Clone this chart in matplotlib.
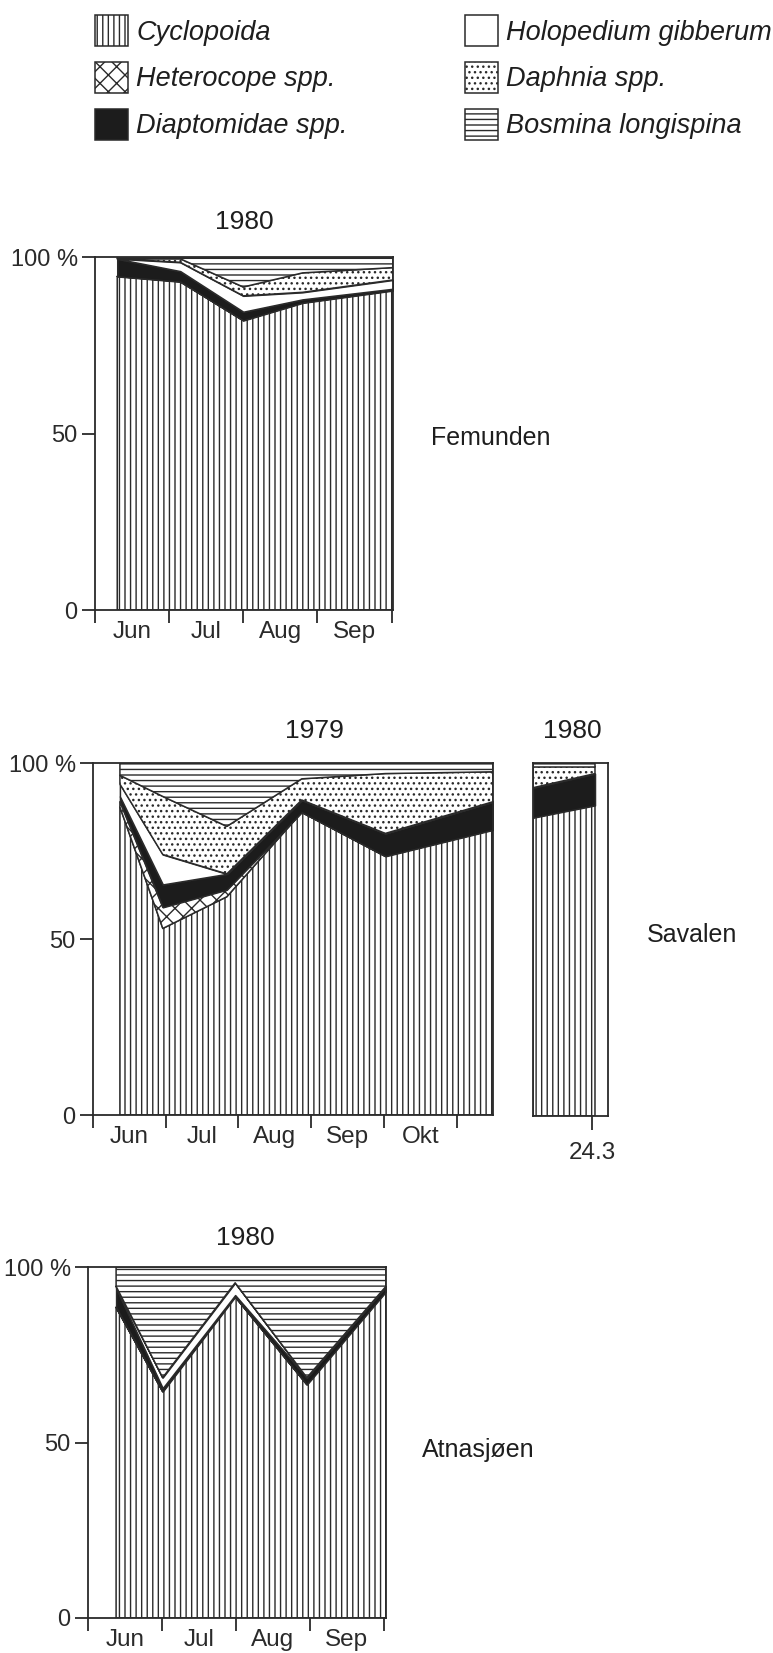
import numpy as np
import matplotlib.pyplot as plt
from matplotlib.patches import Patch

plt.rcParams['font.family'] = ['Liberation Sans', 'DejaVu Sans']
plt.rcParams['hatch.linewidth'] = 1.0
plt.rcParams['text.color'] = '#1e1e1e'
plt.rcParams['xtick.color'] = '#2a2a2a'
plt.rcParams['ytick.color'] = '#2a2a2a'

W, H = 773, 1653
INK = '#2a2a2a'

species = ['Cyclopoida', 'Heterocope spp.', 'Diaptomidae spp.',
           'Holopedium gibberum', 'Daphnia spp.', 'Bosmina longispina']
faces = ['white', 'white', '#1c1c1c', 'white', 'white', 'white']
hatches = ['|||', 'xx', None, None, '...', '---']

# Femunden 1980, x in months counted from 1 June
fem_x = [0.3, 1.15, 2.0, 2.8, 4.02]
fem_cyc = [94.5, 93, 82, 87, 90.5]
fem_het = [0, 0, 0, 0, 0]
fem_dia = [5, 3, 2.5, 1, 0.5]
fem_hol = [0, 2.5, 4.5, 2, 2.5]
fem_dap = [0, 1, 2.5, 5.5, 3.5]
fem_bos = [0.5, 0.5, 8.5, 4.5, 3]
fem_months = ['Jun', 'Jul', 'Aug', 'Sep']

# Savalen 1979
sav_x = [0.37, 0.96, 1.84, 2.87, 4.02, 5.5]
sav_cyc = [87.5, 53, 62, 86, 73.5, 81]
sav_het = [1.5, 6, 2, 0, 0, 0]
sav_dia = [1.5, 6.5, 4.5, 3.5, 6.5, 8]
sav_hol = [3.5, 8.5, 0, 0, 0, 0]
sav_dap = [2.5, 16.5, 13.5, 6, 17, 8.5]
sav_bos = [3.5, 9.5, 18, 4.5, 3, 2.5]
sav_months = ['Jun', 'Jul', 'Aug', 'Sep', 'Okt']

# Savalen 1980 (single sampling, ends 24.3)
sav80_x = [0, 1]
sav80_cyc = [84.5, 88]
sav80_het = [0, 0]
sav80_dia = [8.5, 9]
sav80_hol = [0, 0]
sav80_dap = [6, 2]
sav80_bos = [1, 1]

# Atnasjøen 1980
atn_x = [0.38, 1.01, 1.99, 2.96, 4.03]
atn_cyc = [88.5, 64.5, 91.5, 66.5, 93]
atn_het = [0, 0, 0, 0, 0]
atn_dia = [5.5, 1, 0.5, 2, 1.5]
atn_hol = [0.5, 3, 3.5, 0, 0]
atn_dap = [0, 0, 0, 0, 0]
atn_bos = [5.5, 31.5, 4.5, 31.5, 5.5]
atn_months = ['Jun', 'Jul', 'Aug', 'Sep']

fig = plt.figure(figsize=(W / 100, H / 100), dpi=100)


def rect(l, t, r, b):
    return [l / W, 1 - b / H, (r - l) / W, (b - t) / H]


def put(x, y, s, **kw):
    fig.text(x / W, 1 - y / H, s, ha='center', va='center', **kw)


def panel(box, x, layers, xmax, months=None, ylabels=True):
    ax = fig.add_axes(rect(*box))
    base = np.zeros(len(x))
    for vals, fc, h in zip(layers, faces, hatches):
        top = base + np.array(vals, dtype=float)
        ax.fill_between(x, base, top, facecolor=fc, hatch=h,
                        edgecolor=INK, linewidth=1.1)
        base = top
    ax.set_xlim(0, xmax)
    ax.set_ylim(0, 100)
    for s in ax.spines.values():
        s.set_color(INK)
        s.set_linewidth(1.3)
    if ylabels:
        ax.set_yticks([0, 50, 100], ['0', '50', '100 %'], fontsize=17)
        ax.tick_params(axis='y', direction='out', length=9.5, width=1.3, pad=3)
    else:
        ax.set_yticks([])
    if months:
        n = len(months)
        ax.set_xticks(np.arange(n + 1), [''] * (n + 1))
        ax.set_xticks(np.arange(n) + 0.5, months, minor=True, fontsize=17.5)
        ax.tick_params(axis='x', which='major', direction='out', length=9, width=1.3)
        ax.tick_params(axis='x', which='minor', length=0, pad=8)
    return ax


panel((95, 257, 393, 610), fem_x,
      [fem_cyc, fem_het, fem_dia, fem_hol, fem_dap, fem_bos], 4.02, fem_months)
panel((93, 763, 493, 1115), sav_x,
      [sav_cyc, sav_het, sav_dia, sav_hol, sav_dap, sav_bos], 5.5, sav_months)
ax80 = panel((533, 763, 608, 1116), sav80_x,
             [sav80_cyc, sav80_het, sav80_dia, sav80_hol, sav80_dap, sav80_bos],
             1.21, ylabels=False)
ax80.set_xticks([0.95], ['24.3'], fontsize=17.5)
ax80.tick_params(axis='x', direction='out', length=10, width=1.3, pad=9)
panel((88, 1267, 386, 1618), atn_x,
      [atn_cyc, atn_het, atn_dia, atn_hol, atn_dap, atn_bos], 4.03, atn_months)

put(244, 222, '1980', fontsize=19)
put(314, 731, '1979', fontsize=19)
put(572, 731, '1980', fontsize=19)
put(245, 1238, '1980', fontsize=19)
put(491, 438, 'Femunden', fontsize=18)
put(692, 935, 'Savalen', fontsize=18)
put(478, 1450, 'Atnasjøen', fontsize=18)

handles = [Patch(facecolor=fc, edgecolor=INK, hatch=h, label=s, linewidth=1.1)
           for s, fc, h in zip(species, faces, hatches)]
fig.legend(handles=handles, ncol=2, loc='upper left',
           bbox_to_anchor=(95 / W, 1 - 15 / H), frameon=False,
           prop={'style': 'italic', 'size': 19.5},
           handlelength=1.22, handleheight=1.39, handletextpad=0.3,
           labelspacing=0.58, columnspacing=4.33, borderpad=0, borderaxespad=0)

fig.savefig('out.png', dpi=100, facecolor='white')
